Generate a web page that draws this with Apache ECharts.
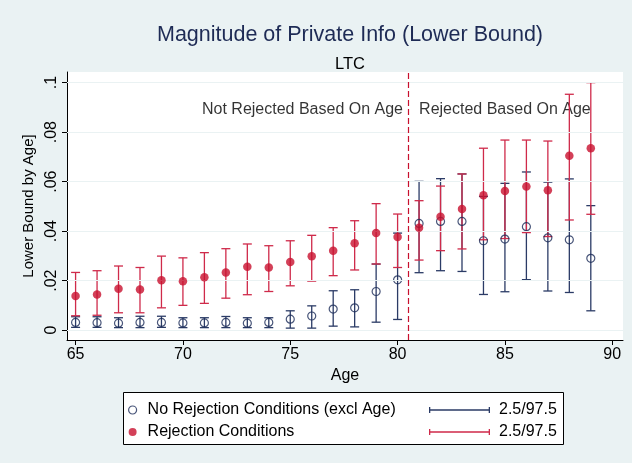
<!DOCTYPE html>
<html>
<head>
<meta charset="utf-8">
<script src="https://cdn.jsdelivr.net/npm/echarts@6/dist/echarts.min.js"></script>
<style>
  html, body { margin: 0; padding: 0; background: #eaf2f3; }
  #chart { width: 632px; height: 463px; }
</style>
</head>
<body>
<div id="chart"></div>
<script>
// ages on the x axis
const ages = [65, 66, 67, 68, 69, 70, 71, 72, 73, 74, 75, 76, 77, 78, 79, 80, 81, 82, 83, 84, 85, 86, 87, 88, 89]

// Rejection Conditions (filled red)
const rejMean = [.0138, .0144, .0167, .0164, .0201, .0197, .0214, .0233, .0256, .0253, .0275, .0298, .0321, .0351, .0392, .0376, .0414, .0458, .0489, .0545, .0562, .0580, .0565, .0705, .0735]
const rejLo = [.0058, .0060, .0070, .0070, .0090, .0100, .0108, .0129, .0143, .0156, .0179, .0198, .0220, .0243, .0267, .0253, .0283, .0321, .0328, .0365, .0370, .0394, .0378, .0445, .0468]
const rejHi = [.0233, .0240, .0259, .0253, .0299, .0292, .0313, .0329, .0348, .0341, .0361, .0383, .0414, .0442, .0511, .0469, .0523, .0582, .0631, .0735, .0768, .0768, .0764, .0953, .1000]

// No Rejection Conditions (excl Age) (hollow navy)
const noRejMean = [.0031, .0030, .0028, .0031, .0031, .0029, .0029, .0031, .0028, .0031, .0044, .0057, .0085, .0090, .0156, .0203, .0431, .0439, .0439, .0361, .0368, .0418, .0373, .0365, .0290]
const noRejLo = [.0011, .0011, .0010, .0010, .0011, .0010, .0010, .0010, .0010, .0010, .0008, .0008, .0016, .0013, .0032, .0043, .0232, .0240, .0237, .0144, .0155, .0204, .0158, .0152, .0078]
const noRejHi = [.0054, .0054, .0050, .0056, .0056, .0050, .0050, .0055, .0050, .0050, .0078, .0098, .0159, .0163, .0267, .0392, .0601, .0612, .0631, .0540, .0593, .0639, .0598, .0611, .0503]

const yTicks = [0, .02, .04, .06, .08, .1]
const xTicks = [65, 70, 75, 80, 85, 90]
const yTickLabels = ['0', '.02', '.04', '.06', '.08', '.1']
const cutoffAge = 80.5
const notes = [[75.57, .0893, 'Not Rejected Based On Age'], [85.0, .0893, 'Rejected Based On Age']]

const navy = '#1a2a57'
const navyBar = '#2b3b66'
const red = '#c8102e'
const redBar = '#cf2a4a'
const bg = '#eaf2f3'
const font = '"Liberation Sans", Arial, sans-serif'

const nameNoRej = 'No Rejection Conditions (excl Age)'
const nameRej = 'Rejection Conditions'

const errBar = (color) => (params, api) => {
  const x = api.value(0)
  const lo = api.coord([x, api.value(1)])
  const hi = api.coord([x, api.value(2)])
  const w = 4.5
  const st = { stroke: color, lineWidth: 1.3 }
  return {
    type: 'group',
    children: [
      { type: 'line', shape: { x1: lo[0], y1: lo[1], x2: hi[0], y2: hi[1] }, style: st },
      { type: 'line', shape: { x1: lo[0] - w, y1: lo[1], x2: lo[0] + w, y2: lo[1] }, style: st },
      { type: 'line', shape: { x1: hi[0] - w, y1: hi[1], x2: hi[0] + w, y2: hi[1] }, style: st }
    ]
  }
}

const barIcon = 'path://M0,0h1.3v6h-1.3z M0,2.35h61v1.3h-61z M59.7,0h1.3v6h-1.3z'

const chart = echarts.init(document.getElementById('chart'))
chart.setOption({
  backgroundColor: bg,
  animation: false,
  textStyle: { fontFamily: font },
  title: [
    {
      text: 'Magnitude of Private Info (Lower Bound)',
      left: 345, top: 19, textAlign: 'center',
      textStyle: { fontFamily: font, fontSize: 21.5, fontWeight: 'normal', color: '#1e2b55' }
    },
    {
      text: 'LTC',
      left: 345, top: 51, textAlign: 'center',
      textStyle: { fontFamily: font, fontSize: 16.5, fontWeight: 'normal', color: '#000' }
    }
  ],
  grid: { left: 67, right: 9, top: 72, bottom: 123, show: true, backgroundColor: '#fff', borderWidth: 0 },
  xAxis: {
    type: 'value', min: 64.6, max: 90.5,
    name: 'Age', nameLocation: 'middle', nameGap: 26,
    nameTextStyle: { fontFamily: font, fontSize: 16, color: '#000' },
    axisLine: { show: true, onZero: false, lineStyle: { color: '#000', width: 1 } },
    axisTick: { show: true, length: 5, customValues: xTicks, lineStyle: { color: '#000' } },
    axisLabel: { customValues: xTicks, fontSize: 16, color: '#000', margin: 7, fontFamily: font },
    splitLine: { show: false }
  },
  yAxis: {
    type: 'value', min: -0.004, max: 0.1043,
    name: 'Lower Bound by Age]', nameLocation: 'middle', nameGap: 26,
    nameTextStyle: { fontFamily: font, fontSize: 15, color: '#000' },
    axisLine: { show: true, onZero: false, lineStyle: { color: '#000', width: 1 } },
    axisTick: { show: true, length: 5, customValues: yTicks, lineStyle: { color: '#000' } },
    axisLabel: {
      customValues: yTicks, rotate: 90, fontSize: 16, color: '#000', margin: 7, fontFamily: font,
      formatter: (v) => yTickLabels[yTicks.findIndex((t) => Math.abs(t - v) < 1e-9)] ?? ''
    },
    splitLine: { show: false }
  },
  legend: [
    {
      orient: 'vertical', left: 123, top: 397, itemWidth: 14, itemHeight: 8, itemGap: 6, z: 5,
      textStyle: { fontFamily: font, fontSize: 16, color: '#000', padding: [0, 0, 0, 3] },
      selectedMode: false,
      data: [
        { name: nameNoRej, icon: 'circle', itemStyle: { color: 'rgba(0,0,0,0)', borderColor: navy, borderWidth: 1.2 } },
        { name: nameRej, icon: 'circle', itemStyle: { color: red } }
      ]
    },
    {
      orient: 'vertical', left: 424, top: 397, itemWidth: 61, itemHeight: 6, itemGap: 6, z: 5,
      textStyle: { fontFamily: font, fontSize: 16, color: '#000', padding: [0, 0, 0, 4] },
      selectedMode: false,
      formatter: (n) => n.trim(),
      data: [
        { name: '2.5/97.5', icon: barIcon, itemStyle: { color: navyBar } },
        { name: '2.5/97.5 ', icon: barIcon, itemStyle: { color: redBar } }
      ]
    }
  ],
  graphic: [
    {
      type: 'rect', z: 0, left: 123, top: 392,
      shape: { width: 440, height: 52 },
      style: { fill: '#fff', stroke: '#000', lineWidth: 1 }
    }
  ],
  series: [
    {
      name: 'notes', type: 'scatter', z: 1, symbolSize: 0, silent: true,
      data: notes,
      label: {
        show: true, position: 'inside', formatter: (p) => p.data[2],
        fontFamily: font, fontSize: 16, color: '#000'
      },
      markLine: {
        silent: true, symbol: 'none', animation: false,
        label: { show: false },
        data: [
          ...yTicks.map((v) => ({ yAxis: v, lineStyle: { color: bg, width: 1.2, type: 'solid' } })),
          { xAxis: cutoffAge, lineStyle: { color: red, width: 1.2, type: [6, 3] } }
        ]
      }
    },
    {
      name: '2.5/97.5', type: 'custom', z: 2,
      renderItem: errBar(navyBar),
      encode: { x: 0, y: [1, 2] },
      data: ages.map((a, i) => [a, noRejLo[i], noRejHi[i]])
    },
    {
      name: '2.5/97.5 ', type: 'custom', z: 3,
      renderItem: errBar(redBar),
      encode: { x: 0, y: [1, 2] },
      data: ages.map((a, i) => [a, rejLo[i], rejHi[i]])
    },
    {
      name: nameNoRej, type: 'scatter', z: 4, symbol: 'circle', symbolSize: 8,
      itemStyle: { color: 'rgba(0,0,0,0)', borderColor: navy, borderWidth: 1.2 },
      data: ages.map((a, i) => [a, noRejMean[i]])
    },
    {
      name: nameRej, type: 'scatter', z: 5, symbol: 'circle', symbolSize: 8.5,
      itemStyle: { color: red },
      data: ages.map((a, i) => [a, rejMean[i]])
    }
  ]
})
</script>
</body>
</html>
